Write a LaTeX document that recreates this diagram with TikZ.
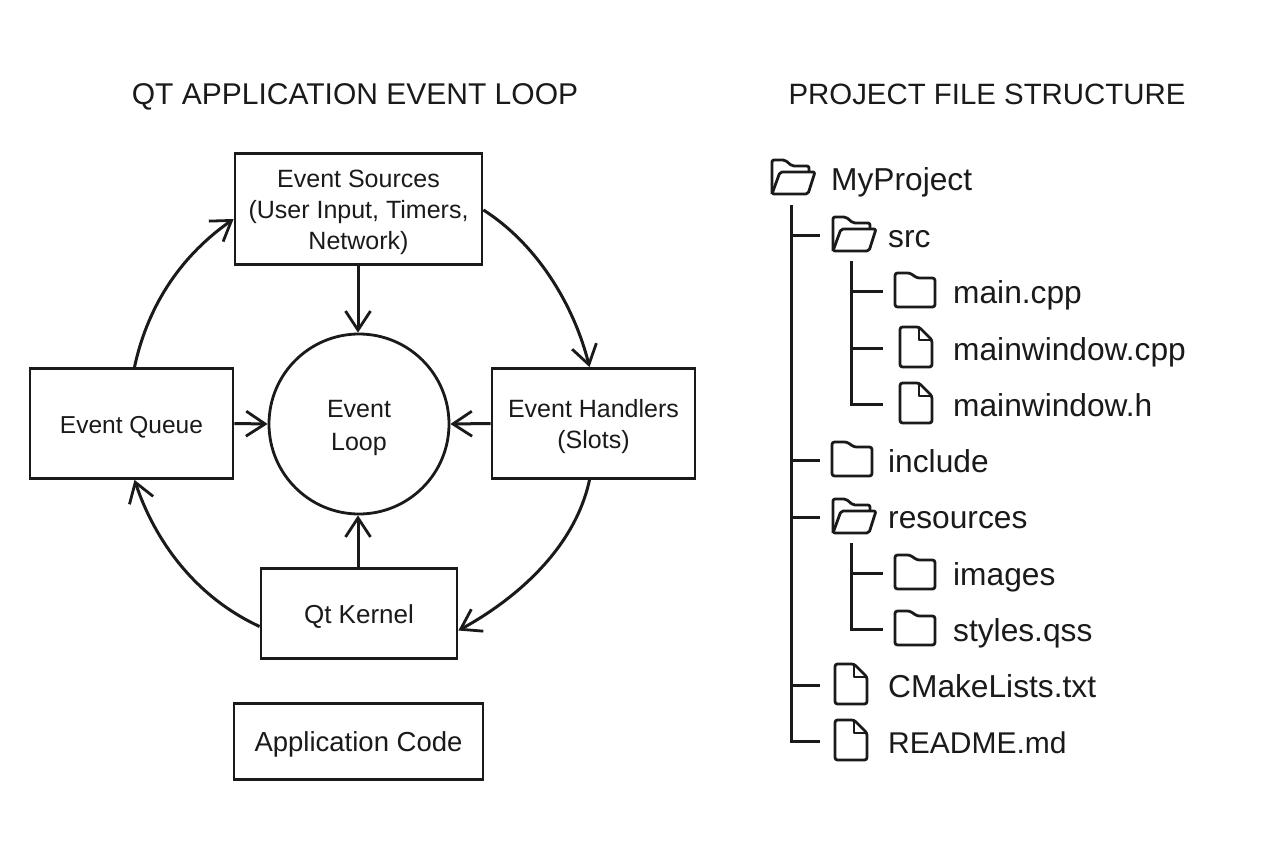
\documentclass[tikz,border=0pt]{standalone}
\usepackage{fontspec}
\setmainfont{Liberation Sans}
\usetikzlibrary{arrows.meta,calc}
\newcommand{\dn}[1]{\raisebox{-3.5pt}[\height][\depth]{\begin{tabular}{@{}c@{}}#1\end{tabular}}}
\tikzset{
  x=1pt,y=-1pt,
  ln/.style={line width=3pt,draw=ink},
  boxn/.style={draw=ink,line width=2.8pt,rectangle,inner sep=0pt,align=center,text=ink,font=\fontsize{25}{31}\selectfont},
  ttl/.style={font=\fontsize{30}{36}\selectfont,inner sep=0pt,text=ink,anchor=base},
  lbl/.style={font=\fontsize{31.7}{36}\selectfont,inner sep=0pt,anchor=base west,text=ink},
  ico/.style={inner sep=0pt,minimum width=44pt,minimum height=36pt},
  conn/.style={ln,-{Straight Barb[length=19pt,width=25pt,line width=2.8pt]}},
  tree/.style={line width=3pt,draw=ink,line join=miter},
  icn/.style={line width=2.8pt,draw=ink,line join=round},
  pics/closedf/.style={code={\draw[icn,rounded corners=2.5pt]
     (-20,17)--(-20,-17)--(-5,-17)--(2,-12)--(20,-12)--(20,17)--cycle;}},
  pics/openf/.style={code={\draw[icn,rounded corners=2pt]
     (-21,17)--(-21,-17)--(-8,-17)--(-1,-11)--(16,-11)--(16,-5);
     \draw[icn,rounded corners=2pt]
     (-21,17)--(-13,-5)--(22,-5)--(15,17)--cycle;}},
  pics/filei/.style={code={\draw[icn,rounded corners=2.5pt]
     (3,-20)--(-16,-20)--(-16,20)--(16,20)--(16,-7)--cycle;
     \draw[icn] (3,-20)--(3,-7)--(16,-7);}},
}
\definecolor{ink}{HTML}{1A1A1A}
\begin{document}
\begin{tikzpicture}
\useasboundingbox (0,0) rectangle (1264,848);
\fill[white] (0,0) rectangle (1264,848);
% titles
\node[ttl] (t1) at (355,105) {QT APPLICATION EVENT LOOP};
\node[ttl,font=\fontsize{29.4}{36}\selectfont] (t2) at (987,105) {PROJECT FILE STRUCTURE};
% boxes
\node[boxn,minimum width=247pt,minimum height=111pt] (src) at (358.5,209) {\dn{Event Sources\\(User Input, Timers,\\Network)}};
\node[boxn,minimum width=203pt,minimum height=110pt] (hnd) at (593.5,423.5) {\dn{Event Handlers\\(Slots)}};
\node[boxn,minimum width=203pt,minimum height=110pt,font=\fontsize{24.5}{31}\selectfont] (que) at (131.5,423.5) {\dn{Event Queue}};
\node[boxn,minimum width=196pt,minimum height=90pt,font=\fontsize{26}{31}\selectfont] (ker) at (359,613.5) {\dn{Qt Kernel}};
\node[boxn,minimum width=249pt,minimum height=76pt,font=\fontsize{27.5}{31}\selectfont] (app) at (358.5,741.5) {\dn{Application Code}};
\node[boxn,circle,minimum size=180pt,font=\fontsize{25}{33}\selectfont] (loop) at (359,424) {\dn{Event\\Loop}};
% connectors
\draw[conn] ([xshift=-0.5pt]src.south) -- ([xshift=-1pt]loop.north);
\draw[conn] (que.east) -- (loop.west);
\draw[conn] (hnd.west) -- (loop.east);
\draw[conn] ([xshift=-1pt]ker.north) -- ([xshift=-1pt]loop.south);
\draw[conn] ([xshift=3pt]que.north) .. controls +(14,-65) and +(-50,35) .. ([yshift=-10pt]src.west);
\draw[conn] ([yshift=-1pt]src.east) .. controls +(55,35) and +(-15,-60) .. ([xshift=-4pt]hnd.north);
\draw[conn] ([xshift=-4pt]hnd.south) .. controls +(-15,70) and +(55,-30) .. ([yshift=-17pt]ker.east);
\draw[conn] ([yshift=-13pt]ker.west) .. controls +(-65,-30) and +(20,60) .. ([xshift=3pt]que.south);
% tree icons
\node[ico] (iroot) at (793,177) {}; \pic at (iroot) {openf};
\node[ico] (isrc) at (854,234) {};  \pic at (isrc) {openf};
\node[ico] (imain) at (915,290) {}; \pic at (imain) {closedf};
\node[ico] (iwin) at (916,347) {};  \pic at (iwin) {filei};
\node[ico] (ih) at (916,403) {};    \pic at (ih) {filei};
\node[ico] (iinc) at (852,459) {};  \pic at (iinc) {closedf};
\node[ico] (ires) at (854,516) {};  \pic at (ires) {openf};
\node[ico] (iimg) at (915,572) {};  \pic at (iimg) {closedf};
\node[ico] (iqss) at (915,628) {};  \pic at (iqss) {closedf};
\node[ico] (icm) at (851,684) {};   \pic at (icm) {filei};
\node[ico] (ird) at (851,740) {};   \pic at (ird) {filei};
% tree labels
\node[lbl] (l1) at (831,190) {MyProject};
\node[lbl] (l2) at (888,247) {src};
\node[lbl] (l3) at (953,303) {main.cpp};
\node[lbl] (l4) at (953,360) {mainwindow.cpp};
\node[lbl] (l5) at (953,416) {mainwindow.h};
\node[lbl] (l6) at (888,472) {include};
\node[lbl] (l7) at (888,528) {resources};
\node[lbl] (l8) at (953,585) {images};
\node[lbl] (l9) at (953,641) {styles.qss};
\node[lbl] (l10) at (888,697) {CMakeLists.txt};
\node[lbl,font=\fontsize{30}{36}\selectfont] (l11) at (888,753) {README.md};
% tree lines
\coordinate (tr) at (791,205);
\coordinate (trb) at (791,741);
\coordinate (sa) at (851.5,261);
\coordinate (sb) at (851.5,404);
\coordinate (ra) at (851.5,543);
\coordinate (rb) at (851.5,629);
\draw[tree] (tr) -- (trb) -- ([xshift=-9pt]trb -| ird.west);
\foreach \n in {isrc,iinc,ires,icm}
  \draw[tree] (tr |- \n) ++(0,1) -- ++(29,0);
\draw[tree] (sa) -- (sb) -- ++(31.5,0);
\draw[tree] (sa |- imain) ++(0,1) -- ++(31.5,0);
\draw[tree] (sa |- iwin) ++(0,1) -- ++(31.5,0);
\draw[tree] (ra) -- (rb) -- ++(31.5,0);
\draw[tree] (ra |- iimg) ++(0,1) -- ++(31.5,0);
\end{tikzpicture}
\end{document}
